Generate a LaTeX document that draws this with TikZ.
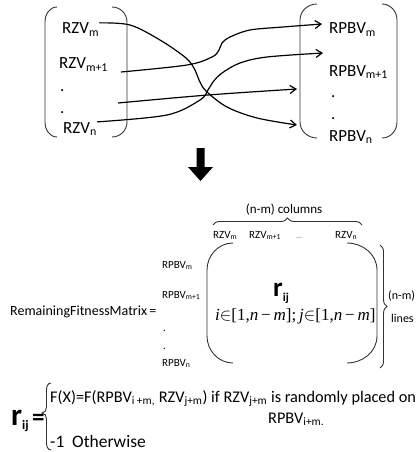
\documentclass[tikz,border=0pt]{standalone}
\usepackage{fontspec}
\setmainfont{Carlito}
\newfontfamily\tnr{Liberation Serif}
\usetikzlibrary{arrows.meta,decorations.pathreplacing}
\newcommand\sbs[1]{\textsubscript{#1}}
\begin{document}
\begin{tikzpicture}[x=1pt,y=-1pt,
  txt/.style={inner sep=0pt, anchor=base west, text=black},
  big/.style={txt, font=\fontsize{17}{19}\selectfont},
  mid/.style={txt, font=\fontsize{11}{13}\selectfont},
  bot/.style={txt, font=\fontsize{16.3}{19}\selectfont},
  paren/.style={draw=black!80, line width=0.9pt},
  conn/.style={draw=black, line width=1.2pt, -{Straight Barb[length=6pt,width=8pt]}},
  bracestyle/.style={draw=black!80, line width=0.9pt, decorate},
]
\useasboundingbox (0,0) rectangle (416,452);

% ---------- top part ----------
\draw[paren] (57,7) to[out=180,in=90] (45,22) -- (45,122) to[out=-90,in=180] (57,137);
\draw[paren] (112,7) to[out=0,in=90] (127,22) -- (127,122) to[out=-90,in=0] (112,137);
\draw[paren] (317,4) to[out=180,in=90] (300,20) -- (300,122) to[out=-90,in=180] (317,138);
\draw[paren] (382,4) to[out=0,in=90] (397,20) -- (397,122) to[out=-90,in=0] (382,138);

\node[big] (rzvm)  at (62,34)  {RZV\sbs{m}};
\node[big] (rzvm1) at (59,69)  {RZV\sbs{m+1}};
\node[big] (ld1)   at (60,91)  {.};
\node[big] (ld2)   at (60,113) {.};
\node[big] (rzvn)  at (63,133) {RZV\sbs{n}};

\node[big] (pbm)  at (329,34)  {RPBV\sbs{m}};
\node[big] (pbm1) at (329,76)  {RPBV\sbs{m+1}};
\node[big] (rd1)  at (331,97)  {.};
\node[big] (rd2)  at (331,119) {.};
\node[big] (pbn)  at (329,141) {RPBV\sbs{n}};

\coordinate (s2) at (121,72);
\coordinate (s3) at (118,103);
\coordinate (t1) at (297,125);
\coordinate (t2) at (322,24);
\coordinate (t3) at (297,89);
\coordinate (t4) at (323,53);

\draw[conn] plot[smooth,tension=0.55] coordinates {(rzvm.north east) (130,25) (160,40) (186,58) (195,70) (199,80) (206,91) (227,107) (257,118) (t1)};
\draw[conn] plot[smooth,tension=0.55] coordinates {(s2) (187,65) (212,57) (219,50) (222,43) (230,37) (250,30) (283,27) (t2)};
\draw[conn] plot[smooth,tension=0.55] coordinates {(s3) (208,95) (t3)};
\draw[conn] plot[smooth,tension=0.55] coordinates {(rzvn.north east) (167,115) (200,100) (208,90) (213,82) (222,73) (240,63) (267,57) (t4)};

% ---------- down arrow ----------
\fill[black] (196.5,148) -- (204.5,148) -- (204.5,167) -- (213,167) -- (200.5,181) -- (188,167) -- (196.5,167) -- cycle;

% ---------- matrix ----------
\node[txt, font=\fontsize{13}{15}\selectfont, anchor=base] (cols) at (284,213) {(n-m) columns};
\draw[bracestyle, decoration={brace, amplitude=7pt}] (213,225) -- (362,225);

\node[mid] (cm)  at (213,238) {RZV\sbs{m}};
\node[mid] (cm1) at (249,238) {RZV\sbs{m+1}};
\node[txt, font=\fontsize{8}{9}\selectfont, text=black!60] (cdots) at (296,238) {...};
\node[mid] (cn)  at (335,238) {RZV\sbs{n}};

\node[mid] (rm)  at (162,268) {RPBV\sbs{m}};
\node[mid] (rm1) at (162,298) {RPBV\sbs{m+1}};
\node[mid] (rdd1) at (163,331) {.};
\node[mid] (rdd2) at (163,349) {.};
\node[mid] (rn)  at (162,366) {RPBV\sbs{n}};

\node[txt, font=\fontsize{14}{16}\selectfont] (rfm) at (10,315) {RemainingFitnessMatrix\,=};

\draw[paren] (233,243) to[out=180,in=90] (207,270) -- (207,336) to[out=-90,in=180] (233,363);
\draw[paren] (347,243) to[out=0,in=90] (377,270) -- (377,336) to[out=-90,in=0] (347,363);

\node[txt, font=\bfseries] (rij) at (273,296) {\fontsize{27}{28}\selectfont r\fontsize{12}{13}\selectfont\raisebox{-5pt}{ij}};
\node[txt, font=\fontsize{17}{19}\selectfont\tnr] (rng) at (215,320) {\textit{i}$\in$[1,\textit{n}\,−\,\textit{m}];\,\textit{j}$\in$[1,\textit{n}\,−\,\textit{m}]};

\draw[bracestyle, decoration={brace, amplitude=7pt}] (380,245) -- (380,368);
\node[txt, font=\fontsize{12}{14}\selectfont] (nm) at (388,299) {(n-m)};
\node[txt, font=\fontsize{12}{14}\selectfont] (lines) at (391,322) {lines};

% ---------- definition ----------
\node[txt, font=\bfseries] (rdef) at (11,425) {\fontsize{31}{32}\selectfont r\fontsize{13}{14}\selectfont\raisebox{-4pt}{ij}};
\node[txt, font=\fontsize{25}{26}\bfseries\selectfont] (eq) at (32,425) {=};
\draw[paren] (51,383) to[out=180,in=90] (46.5,390) -- (46.5,407) to[out=-90,in=0] (42,413) to[out=0,in=90] (46.5,419) -- (46.5,443) to[out=-90,in=180] (51,450);
\node[bot] (f1) at (50,402) {F(X)=F(RPBV\sbs{i +m,} RZV\sbs{j+m}) if RZV\sbs{j+m} is randomly placed on};
\node[bot] (f2) at (268,423) {RPBV\sbs{i+m.}};
\node[txt, font=\fontsize{17.5}{19}\selectfont] (f3a) at (50,447) {-1};
\node[txt, font=\fontsize{17.5}{19}\selectfont] (f3b) at (72,447) {Otherwise};
\end{tikzpicture}
\end{document}
